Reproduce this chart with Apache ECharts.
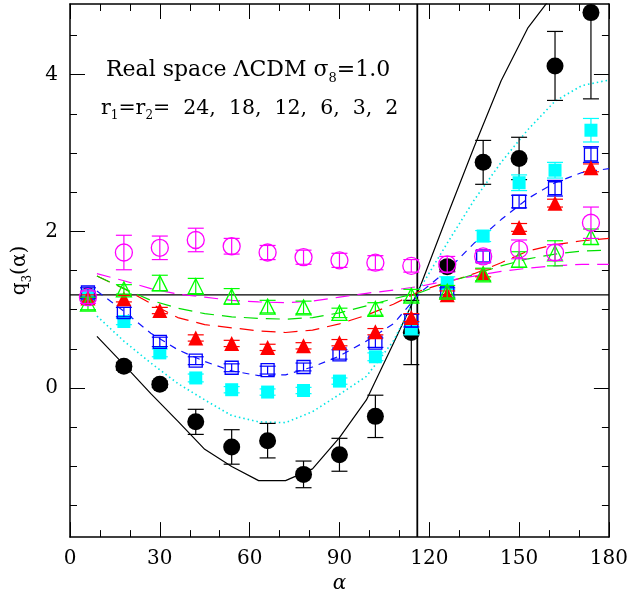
<!DOCTYPE html>
<html><head><meta charset="utf-8">
<script src="https://cdn.jsdelivr.net/npm/echarts@6/dist/echarts.min.js"></script>
<style>html,body{margin:0;padding:0;background:#fff}#c{width:631px;height:599px}</style>
</head><body><div id="c"></div>
<script>
// Observed angles (degrees)
const alphaObs = [6, 18, 30, 42, 54, 66, 78, 90, 102, 114, 126, 138, 150, 162, 174];
// r1=r2=24 (black filled circles)
const q24 = [1.18, 0.28, 0.05, -0.43, -0.75, -0.67, -1.1, -0.85, -0.36, 0.71, 1.55, 2.88, 2.93, 4.11, 4.79];
const e24 = [0.05, 0.05, 0.04, 0.16, 0.22, 0.22, 0.17, 0.21, 0.27, 0.41, 0.06, 0.28, 0.27, 0.44, 1.1];
// r=18 (cyan filled squares)
const q18 = [1.18, 0.85, 0.45, 0.13, -0.02, -0.05, -0.03, 0.09, 0.4, 0.76, 1.34, 1.94, 2.62, 2.78, 3.29];
const e18 = [0.05, 0.04, 0.05, 0.05, 0.04, 0.04, 0.04, 0.04, 0.05, 0.08, 0.08, 0.07, 0.1, 0.1, 0.15];
// r=12 (blue open squares)
const q12 = [1.22, 0.97, 0.59, 0.35, 0.26, 0.23, 0.27, 0.43, 0.58, 0.86, 1.22, 1.68, 2.38, 2.55, 2.98];
const e12 = [0.06, 0.06, 0.06, 0.05, 0.05, 0.05, 0.05, 0.06, 0.06, 0.08, 0.06, 0.07, 0.08, 0.1, 0.1];
// r=6 (red filled triangles)
const q6 = [1.15, 1.14, 0.99, 0.64, 0.57, 0.52, 0.54, 0.58, 0.72, 0.9, 1.19, 1.47, 2.05, 2.36, 2.81];
const e6 = [0.04, 0.04, 0.04, 0.04, 0.04, 0.04, 0.04, 0.04, 0.04, 0.05, 0.05, 0.05, 0.05, 0.05, 0.05];
// r=3 (green open triangles)
const q3 = [1.08, 1.26, 1.34, 1.3, 1.17, 1.04, 1.03, 0.96, 1.01, 1.18, 1.23, 1.45, 1.64, 1.72, 1.93];
const e3 = [0.08, 0.06, 0.1, 0.1, 0.1, 0.08, 0.08, 0.06, 0.08, 0.08, 0.08, 0.08, 0.1, 0.16, 0.1];
// r=2 (magenta open circles)
const q2 = [1.16, 1.73, 1.79, 1.89, 1.81, 1.73, 1.67, 1.63, 1.6, 1.56, 1.58, 1.68, 1.77, 1.73, 2.11];
const e2 = [0.08, 0.22, 0.15, 0.15, 0.1, 0.09, 0.09, 0.09, 0.09, 0.08, 0.1, 0.08, 0.12, 0.1, 0.2];

// Theory curves
const alphaTh = [9, 18, 27, 36, 45, 54, 63, 72, 81, 90, 99, 108, 117, 126, 135, 144, 153, 162, 171, 180];
const t24 = [0.66, 0.3, -0.07, -0.42, -0.78, -1.0, -1.18, -1.18, -1.03, -0.63, -0.15, 0.57, 1.3, 2.2, 3.08, 3.92, 4.6, 5.05, 5.4, 5.6];
const t18 = [0.92, 0.6, 0.32, 0.06, -0.15, -0.35, -0.43, -0.44, -0.3, -0.08, 0.15, 0.6, 1.28, 1.85, 2.4, 2.88, 3.3, 3.66, 3.86, 3.93];
const t12 = [1.24, 0.98, 0.7, 0.49, 0.34, 0.22, 0.16, 0.17, 0.27, 0.41, 0.6, 0.82, 1.22, 1.5, 1.85, 2.15, 2.42, 2.62, 2.75, 2.8];
const t6 = [1.43, 1.27, 1.08, 0.9, 0.81, 0.77, 0.73, 0.71, 0.74, 0.82, 0.93, 1.07, 1.24, 1.35, 1.46, 1.6, 1.75, 1.83, 1.88, 1.91];
const t3 = [1.43, 1.27, 1.12, 1.02, 0.95, 0.91, 0.89, 0.88, 0.9, 0.96, 1.05, 1.14, 1.22, 1.35, 1.45, 1.56, 1.65, 1.71, 1.75, 1.76];
const t2 = [1.46, 1.37, 1.27, 1.2, 1.16, 1.12, 1.1, 1.09, 1.11, 1.16, 1.21, 1.25, 1.3, 1.37, 1.43, 1.49, 1.53, 1.56, 1.58, 1.58];

// Reference lines
const hLineY = 1.19;
const vLineX = 116;

const yMajor = [0, 2, 4];
const yMinor = [-1.5, -1, -0.5, 0.5, 1, 1.5, 2.5, 3, 3.5, 4.5];
const yMin = -1.9, yMax = 4.9;

const FONT = 'DejaVu Serif';
const chart = echarts.init(document.getElementById('c'), null, {renderer: 'canvas'});

function errSeries(q, e, color, z) {
  return {
    type: 'custom', z: z, clip: true, silent: true,
    data: alphaObs.map((a, i) => [a, q[i] - e[i], q[i] + e[i]]),
    renderItem: function (params, api) {
      const x = api.value(0);
      const lo = api.coord([x, api.value(1)]);
      const hi = api.coord([x, api.value(2)]);
      const w = 8;
      const st = {stroke: color, lineWidth: 1.2};
      return {type: 'group', children: [
        {type: 'line', shape: {x1: lo[0], y1: lo[1], x2: hi[0], y2: hi[1]}, style: st},
        {type: 'line', shape: {x1: lo[0] - w, y1: lo[1], x2: lo[0] + w, y2: lo[1]}, style: st},
        {type: 'line', shape: {x1: hi[0] - w, y1: hi[1], x2: hi[0] + w, y2: hi[1]}, style: st}
      ]};
    }
  };
}
function ptSeries(q, symbol, size, color, filled, z) {
  return {
    type: 'scatter', z: z, symbol: symbol, symbolSize: size, silent: true,
    data: alphaObs.map((a, i) => [a, q[i]]),
    itemStyle: filled ? {color: color, opacity: 1} : {color: 'rgba(0,0,0,0)', borderColor: color, borderWidth: 1.3, opacity: 1}
  };
}
function thSeries(t, color, type, width) {
  return {
    type: 'line', z: 2, showSymbol: false, symbol: 'none', silent: true, clip: true,
    data: alphaTh.map((a, i) => [a, t[i]]),
    lineStyle: {color: color, width: width, type: type}
  };
}

function rich(size) {
  return {
    a: {fontFamily: FONT, fontSize: size, fontWeight: 'normal', color: '#000', lineHeight: size + 4, verticalAlign: 'top'},
    b: {fontFamily: FONT, fontSize: Math.round(size * 0.6), fontWeight: 'normal', color: '#000', lineHeight: 14, padding: [Math.round(size * 0.6), 0, 0, 0], verticalAlign: 'top'}
  };
}
const axisLineStyle = {color: '#000', width: 1.5};
const option = {
  animation: false,
  backgroundColor: '#fff',
  grid: {left: 70, right: 21, top: 4, bottom: 56, containLabel: false},
  title: [
    {left: 106, top: 59, padding: 0,
     text: '{a|Real space ΛCDM σ}{b|8}{a|=1.0}',
     textStyle: {fontWeight: 'normal', rich: rich(22)}},
    {left: 101, top: 98, padding: 0,
     text: '{a|r}{b|1}{a|=r}{b|2}{a|=  24,  18,  12,  6,  3,  2}',
     textStyle: {fontWeight: 'normal', rich: rich(20.5)}}
  ],
  xAxis: [
    {type: 'value', min: 0, max: 180, interval: 30, position: 'bottom',
     axisLine: {show: true, onZero: false, lineStyle: axisLineStyle},
     axisTick: {show: true, inside: true, length: 15, lineStyle: {color: '#000', width: 1}},
     minorTick: {show: true, splitNumber: 3, length: 7, lineStyle: {color: '#000', width: 1}},
     splitLine: {show: false}, minorSplitLine: {show: false},
     axisLabel: {fontFamily: FONT, fontSize: 20, color: '#000', margin: 12},
     name: 'α', nameLocation: 'middle', nameGap: 36,
     nameTextStyle: {fontFamily: FONT, fontSize: 20, fontStyle: 'italic', color: '#000'}},
    {type: 'value', min: 0, max: 180, interval: 30, position: 'top',
     axisLine: {show: true, onZero: false, lineStyle: axisLineStyle},
     axisTick: {show: true, inside: true, length: 15, lineStyle: {color: '#000', width: 1}},
     minorTick: {show: true, splitNumber: 3, length: 7, lineStyle: {color: '#000', width: 1}},
     splitLine: {show: false}, axisLabel: {show: false}}
  ],
  yAxis: [
    {type: 'value', min: yMin, max: yMax, position: 'left',
     axisLine: {show: true, onZero: false, lineStyle: axisLineStyle},
     axisTick: {show: true, inside: true, length: 15, customValues: yMajor, lineStyle: {color: '#000', width: 1}},
     axisLabel: {show: true, customValues: yMajor, fontFamily: FONT, fontSize: 20, color: '#000', margin: 12},
     splitLine: {show: false},
     name: '{a|q}{b|3}{a|(α)}', nameLocation: 'middle', nameGap: 36, nameRotate: 90,
     nameTextStyle: {fontWeight: 'normal', rich: rich(20)}},
    {type: 'value', min: yMin, max: yMax, position: 'left',
     axisLine: {show: false, onZero: false},
     axisTick: {show: true, inside: true, length: 7, customValues: yMinor, lineStyle: {color: '#000', width: 1}},
     axisLabel: {show: false}, splitLine: {show: false}},
    {type: 'value', min: yMin, max: yMax, position: 'right',
     axisLine: {show: true, onZero: false, lineStyle: axisLineStyle},
     axisTick: {show: true, inside: true, length: 15, customValues: yMajor, lineStyle: {color: '#000', width: 1}},
     axisLabel: {show: false}, splitLine: {show: false}},
    {type: 'value', min: yMin, max: yMax, position: 'right',
     axisLine: {show: false, onZero: false},
     axisTick: {show: true, inside: true, length: 7, customValues: yMinor, lineStyle: {color: '#000', width: 1}},
     axisLabel: {show: false}, splitLine: {show: false}}
  ],
  series: [
    {type: 'line', z: 1, showSymbol: false, symbol: 'none', silent: true,
     data: [[0, hLineY], [180, hLineY]], lineStyle: {color: '#000', width: 1.2}},
    {type: 'line', z: 1, showSymbol: false, symbol: 'none', silent: true,
     data: [[vLineX, yMin], [vLineX, yMax]], lineStyle: {color: '#000', width: 1.8}},
    thSeries(t24, '#000000', 'solid', 1.2),
    thSeries(t18, '#00e5e5', [1.5, 3], 1.6),
    thSeries(t12, '#1010ff', [7, 6], 1.2),
    thSeries(t6, '#ff0000', [14, 8], 1.2),
    thSeries(t3, '#00e000', [14, 8], 1.2),
    thSeries(t2, '#ff00ff', [14, 8], 1.2),
    errSeries(q24, e24, '#000000', 3), ptSeries(q24, 'circle', 17, '#000000', true, 4),
    errSeries(q18, e18, '#00ffff', 5), ptSeries(q18, 'rect', 13, '#00ffff', true, 6),
    errSeries(q12, e12, '#0000ff', 7), ptSeries(q12, 'rect', 13, '#0000ff', false, 8),
    errSeries(q6, e6, '#ff0000', 9), ptSeries(q6, 'triangle', 15, '#ff0000', true, 10),
    errSeries(q3, e3, '#00ff00', 11), ptSeries(q3, 'triangle', 15, '#00ff00', false, 12),
    errSeries(q2, e2, '#ff00ff', 13), ptSeries(q2, 'circle', 17, '#ff00ff', false, 14)
  ]
};
chart.setOption(option);
</script>
</body></html>
